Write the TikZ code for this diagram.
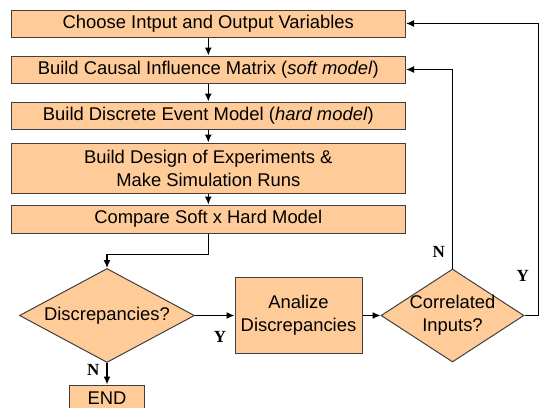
\documentclass[tikz,border=0pt]{standalone}
\usepackage{fontspec}
\setmainfont{Liberation Sans}
\newfontfamily\yesnofont{Liberation Serif}
\usetikzlibrary{shapes.geometric,arrows.meta}
\definecolor{boxfill}{RGB}{255,204,153}
\definecolor{boxline}{RGB}{64,64,64}

\tikzset{
	procbox/.style={draw=boxline, fill=boxfill, line width=1pt, inner sep=0pt, align=center, font=\fontsize{18.4}{23}\selectfont},
	widebox/.style={procbox, minimum width=394.6pt, minimum height=27pt},
	decision/.style={diamond, draw=boxline, fill=boxfill, line width=1pt, inner sep=0pt},
	dtext/.style={align=center, inner sep=0pt, font=\fontsize{18.4}{23}\selectfont},
	yn/.style={font=\yesnofont\bfseries\fontsize{17}{17}\selectfont, inner sep=2pt}
}

\begin{document}
\begin{tikzpicture}[x=1pt, y=-1pt, line width=1.3pt, >={Latex[length=8pt,width=7pt]}]
	\useasboundingbox (0,0) rectangle (540,407);
	% main column
	\node[widebox] (choose) at (208.3,23.5) {Choose Intput and Output Variables};
	\node[widebox] (causal) at (208.3,69.5) {Build Causal Influence Matrix (\textit{soft model})};
	\node[widebox] (discrete) at (208.3,115.5) {Build Discrete Event Model (\textit{hard model})};
	\node[widebox, minimum height=50pt] (design) at (208.3,168) {Build Design of Experiments \&\\Make Simulation Runs};
	\node[widebox, minimum height=28pt] (compare) at (208.3,219) {Compare Soft x Hard Model};
	% bottom row
	\node[decision, minimum width=175pt, minimum height=94pt, label={[dtext]center:Discrepancies?}] (disc) at (107,315.5) {};
	\node[procbox, minimum width=127pt, minimum height=76pt] (analize) at (298.5,315.5) {Analize\\Discrepancies};
	\node[decision, minimum width=143pt, minimum height=93pt, label={[dtext]center:Correlated\\Inputs?}] (corr) at (452.5,315.5) {};
	\node[procbox, minimum width=75pt, minimum height=26pt] (stop) at (107,398) {END};

	\path[->]
	(choose) edge (causal)
	(causal) edge (discrete)
	(discrete) edge (design)
	(design) edge (compare)
	(disc) edge node[yn, pos=.63, below=13pt] (yes1) {Y} (analize)
	(analize) edge (corr)
	(disc) edge node[yn, pos=.3, left=5pt] (no1) {N} (stop)
	;
	\draw[->] (compare.south) -- ++(0,21) -| (disc.north);
	\draw[->] (corr.north) |- node[yn, pos=.042, left=5pt] (no2) {N} (causal.east);
	\draw[->] (corr.east) -- ++(14,0) |- node[yn, pos=.068, left=7pt] (yes2) {Y} (choose.east);
\end{tikzpicture}
\end{document}
